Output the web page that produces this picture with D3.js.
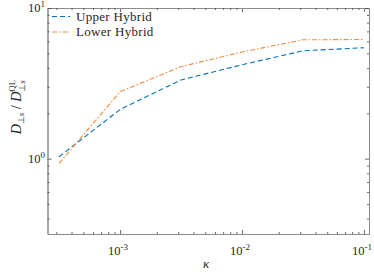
<!DOCTYPE html>
<html><head><meta charset="utf-8">
<script src="https://cdn.jsdelivr.net/npm/d3@7"></script>
<style>body{margin:0;background:#fff}svg{display:block}</style>
</head><body><svg id="c" width="374" height="274"></svg>
<script>
const kappa = [3.16e-4, 1e-3, 3.16e-3, 1e-2, 3.16e-2, 1e-1];
const upperHybrid = [1.03, 2.12, 3.33, 4.2, 5.2, 5.45];
const lowerHybrid = [0.93, 2.78, 4.08, 5.1, 6.15, 6.18];
const xMajor = [1e-3, 1e-2, 1e-1];
const xMajorLabels = ["-3", "-2", "-1"];
const yMajor = [1, 10];
const yMajorLabels = ["0", "1"];
const seriesNames = ["Upper Hybrid", "Lower Hybrid"];

const FONT = "Liberation Serif";
const svg = d3.select("#c");
const L = 47.5, R = 369, T = 8, B = 234;
const x = d3.scaleLog().domain([2.54e-4, 0.11]).range([L, R]);
const y = d3.scaleLog().domain([Math.pow(10, -0.5), 10]).range([B, T]);
const axisCol = "#8c8c8c";

const xMinor = [], yMinor = [];
for (let e = -4; e <= -1; e++) for (let m = 2; m <= 9; m++) { const v = m * Math.pow(10, e); if (v > x.domain()[0] && v < x.domain()[1]) xMinor.push(v); }
for (let e = -1; e <= 0; e++) for (let m = 2; m <= 9; m++) { const v = m * Math.pow(10, e); if (v > y.domain()[0] && v < y.domain()[1]) yMinor.push(v); }

const g = svg.append("g");
function drawAxis(axis, transform, vals, size) {
  const a = g.append("g").attr("transform", transform)
    .call(axis.tickValues(vals).tickSize(size).tickSizeOuter(0).tickFormat(""));
  a.select(".domain").attr("stroke", axisCol).attr("stroke-width", 1);
  a.selectAll(".tick line").attr("stroke", "#444").attr("stroke-width", 0.8);
  return a;
}
drawAxis(d3.axisBottom(x), `translate(0,${B})`, xMajor, -4);
drawAxis(d3.axisBottom(x), `translate(0,${B})`, xMinor, -2);
drawAxis(d3.axisTop(x), `translate(0,${T})`, xMajor, -4);
drawAxis(d3.axisTop(x), `translate(0,${T})`, xMinor, -2);
drawAxis(d3.axisLeft(y), `translate(${L},0)`, yMajor, -4);
drawAxis(d3.axisLeft(y), `translate(${L},0)`, yMinor, -2);
drawAxis(d3.axisRight(y), `translate(${R},0)`, yMajor, -4);
drawAxis(d3.axisRight(y), `translate(${R},0)`, yMinor, -2);

xMajor.forEach((v, i) => {
  const t = g.append("text").attr("x", x(v) - 2).attr("y", 255).attr("text-anchor", "middle")
    .attr("font-size", 12.5).attr("fill", "#262626");
  t.append("tspan").text("10");
  t.append("tspan").attr("dy", -5).attr("font-size", 9).text(xMajorLabels[i]);
});
yMajor.forEach((v, i) => {
  const t = g.append("text").attr("x", 45).attr("y", y(v) + 4).attr("text-anchor", "end")
    .attr("font-size", 12.5).attr("fill", "#262626");
  t.append("tspan").text("10");
  t.append("tspan").attr("dy", -5).attr("font-size", 9).text(yMajorLabels[i]);
});

const line = d3.line().x((d, i) => x(kappa[i])).y(d => y(d));
g.append("path").datum(upperHybrid).attr("d", line).attr("fill", "none")
  .attr("stroke", "#0072BD").attr("stroke-width", 1.1).attr("stroke-dasharray", "5,3");
g.append("path").datum(lowerHybrid).attr("d", line).attr("fill", "none")
  .attr("stroke", "#F58A3C").attr("stroke-width", 1.1).attr("stroke-dasharray", "5,2,1.5,2");

const lg = g.append("g");
const legendCols = ["#0072BD", "#F58A3C"], legendDash = ["5,3", "5,2,1.5,2"];
seriesNames.forEach((n, i) => {
  const yy = 16.5 + i * 15.5;
  lg.append("line").attr("x1", 52).attr("x2", 70).attr("y1", yy).attr("y2", yy)
    .attr("stroke", legendCols[i]).attr("stroke-width", 1.1).attr("stroke-dasharray", legendDash[i]);
  lg.append("text").attr("x", 76).attr("y", yy + 4).attr("font-size", 13).attr("fill", "#262626")
    .attr("letter-spacing", 0.3).text(n);
});

g.append("text").attr("x", 206).attr("y", 268).attr("text-anchor", "middle")
  .attr("font-size", 13).attr("font-style", "italic").attr("fill", "#262626").text("κ");
const yl = g.append("text").attr("transform", "translate(21,107) rotate(-90)").attr("text-anchor", "middle")
  .attr("font-size", 14).attr("fill", "#262626");
yl.append("tspan").attr("font-style", "italic").text("D");
yl.append("tspan").attr("font-size", 9).attr("dy", 3).text("⊥");
yl.append("tspan").attr("font-size", 9).attr("font-style", "italic").text("s");
yl.append("tspan").attr("dy", -3).text(" / ");
yl.append("tspan").attr("font-style", "italic").text("D");
yl.append("tspan").attr("font-size", 9).attr("dy", -6).text("QL");
yl.append("tspan").attr("font-size", 9).attr("dx", -12).attr("dy", 10).text("⊥");
yl.append("tspan").attr("font-size", 9).attr("font-style", "italic").text("s");

svg.selectAll("text").style("font-family", FONT);
</script></body></html>
